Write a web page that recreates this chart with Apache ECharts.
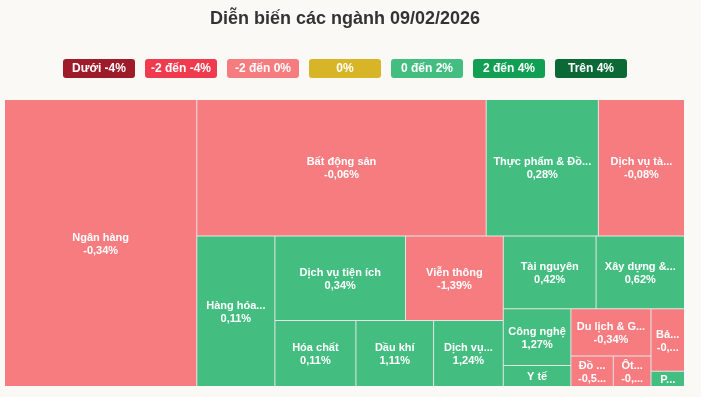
<!DOCTYPE html>
<html>
<head>
<meta charset="utf-8">
<title>Diễn biến các ngành</title>
<script src="https://cdn.jsdelivr.net/npm/echarts@6/dist/echarts.min.js"></script>
<style>
  html, body { margin: 0; padding: 0; background: #fbf9f6; }
  #chart { width: 690px; height: 397px; }
</style>
</head>
<body>
<div id="chart"></div>
<script>
// ngành, % thay đổi, độ lớn ô (đọc từ diện tích ô trên hình)
const sectors = [
  'Ngân hàng', 'Bất động sản', 'Thực phẩm & Đồ uống', 'Dịch vụ tài chính',
  'Hàng hóa và dịch vụ công nghiệp', 'Dịch vụ tiện ích', 'Viễn thông', 'Tài nguyên',
  'Xây dựng & Vật liệu', 'Hóa chất', 'Dầu khí', 'Dịch vụ bán lẻ', 'Công nghệ',
  'Du lịch & Giải trí', 'Bảo hiểm', 'Y tế', 'Đồ dùng cá nhân & gia dụng',
  'Ôtô & linh kiện phụ tùng', 'Phương tiện truyền thông'
]
const changes = [-0.34, -0.06, 0.28, -0.08, 0.11, 0.34, -1.39, 0.42, 0.62, 0.11,
  1.11, 1.24, 1.27, -0.34, -0.97, 0.10, -0.59, -0.01, 0.95]
const sizes = [54912, 39304, 15232, 11696, 11700, 10981, 8216, 6715, 6399, 5325,
  5104, 4582, 3828, 3770, 2088, 1404, 1287, 1144, 507]

// chú thích màu
const legendLabels = ['Dưới -4%', '-2 đến -4%', '-2 đến 0%', '0%', '0 đến 2%', '2 đến 4%', 'Trên 4%']
const legendColors = ['#9e1b2a', '#ef3b4d', '#f77c80', '#d8b427', '#44be80', '#109f53', '#0b6936']

// cách gom nhóm các ô (chỉ số trong sectors)
const groups = [0, [[[1, 2], 3], [4, [[[5, 6], [9, 10, 11]], [[7, 8], [[12, 15], [13, [16, 17]], [14, 18]]]]]]]

const colorFor = (v) => {
  if (v <= -4) return legendColors[0]
  if (v <= -2) return legendColors[1]
  if (v < 0) return legendColors[2]
  if (v === 0) return legendColors[3]
  if (v < 2) return legendColors[4]
  if (v < 4) return legendColors[5]
  return legendColors[6]
}
const fmt = (v) => v.toFixed(2).replace('.', ',') + '%'

const buildNode = (spec) => {
  if (typeof spec === 'number') {
    return {
      name: sectors[spec],
      value: sizes[spec],
      pct: changes[spec],
      itemStyle: { color: colorFor(changes[spec]) }
    }
  }
  return { name: '', children: spec.map(buildNode) }
}

const chart = echarts.init(document.getElementById('chart'))

const legendItems = []
legendLabels.forEach((t, i) => {
  legendItems.push({
    type: 'rect',
    shape: { x: 63 + i * 82, y: 59, width: 72, height: 19, r: 3 },
    style: { fill: legendColors[i] }
  })
  legendItems.push({
    type: 'text',
    style: {
      text: t, x: 99 + i * 82, y: 68.5, align: 'center', verticalAlign: 'middle',
      fill: '#fff', font: 'bold 12px Arial'
    }
  })
})

chart.setOption({
  backgroundColor: '#fbf9f6',
  title: {
    text: 'Diễn biến các ngành 09/02/2026',
    left: 'center',
    top: 5,
    textStyle: { fontSize: 18, fontWeight: 'bold', color: '#333', fontFamily: 'Arial' }
  },
  graphic: legendItems,
  series: [{
    type: 'treemap',
    left: 5, top: 100, width: 679, height: 286,
    roam: false,
    nodeClick: false,
    breadcrumb: { show: false },
    sort: false,
    squareRatio: 1.81,
    itemStyle: { borderWidth: 0, gapWidth: 1, borderColor: '#e6e6e6' },
    upperLabel: { show: false },
    label: {
      show: true,
      position: 'inside',
      offset: [0, 1],
      color: '#fff',
      fontSize: 11,
      fontWeight: 'bold',
      fontFamily: 'Arial',
      lineHeight: 13,
      padding: [0, 4],
      formatter: (p) => p.name + '\n' + fmt(p.data.pct)
    },
    data: groups.map(buildNode)
  }]
})
</script>
</body>
</html>
